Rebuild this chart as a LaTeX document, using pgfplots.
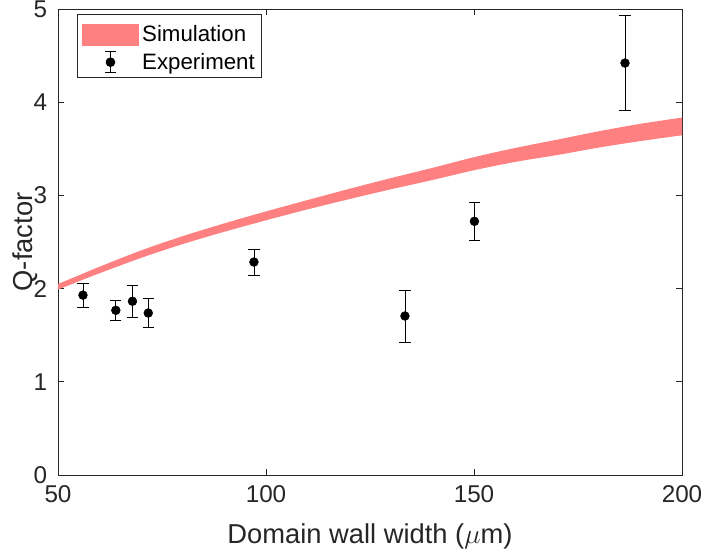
\documentclass[border=0pt]{standalone}
\usepackage{pgfplots}
\pgfplotsset{compat=1.18}
\usepgfplotslibrary{fillbetween}
\usepackage{fontspec}
\setmainfont{Liberation Sans}

\definecolor{simred}{RGB}{255,128,128}
\definecolor{axgray}{RGB}{38,38,38}

% simulated Q-factor band: lower and upper edges
\pgfplotstableread{
x    lo      hi
50   1.990   2.050
55   2.078   2.142
60   2.165   2.235
70   2.330   2.410
80   2.478   2.563
90   2.610   2.700
100  2.733   2.828
110  2.850   2.950
120  2.960   3.070
130  3.065   3.185
140  3.165   3.295
150  3.270   3.410
160  3.360   3.510
170  3.433   3.598
180  3.513   3.688
190  3.583   3.768
200  3.645   3.835
}\simband

% measured Q-factor with error
\pgfplotstableread{
x     y      e
56.0  1.93   0.13
63.9  1.767  0.11
67.9  1.864  0.17
71.7  1.738  0.155
97.1  2.285  0.14
133.4 1.706  0.28
150.1 2.722  0.20
186.3 4.42   0.51
}\expdata

\begin{document}
\begin{tikzpicture}
\begin{axis}[
  scale only axis,
  width=468pt, height=349.5pt,
  xmin=50, xmax=200, ymin=0, ymax=5,
  xtick={50,100,150,200}, ytick={0,1,2,3,4,5},
  tick align=inside,
  major tick length=4.5pt,
  axis line style={axgray, line width=0.6pt},
  tick style={axgray, line width=0.6pt},
  ticklabel style={font=\fontsize{18.2}{22}\selectfont, text=axgray},
  /pgf/number format/assume math mode=true,
  xticklabel style={anchor=north, inner sep=0pt, yshift=-8pt},
  yticklabel style={anchor=east, inner sep=0pt, xshift=-8pt},
  xlabel={Domain wall width ($\mu$m)},
  ylabel={Q-factor},
  label style={font=\fontsize{20.5}{24}\selectfont, text=axgray},
  xlabel style={at={(axis description cs:0.5,0)}, anchor=center, yshift=-45.75pt},
  ylabel style={at={(axis description cs:0,0.5)}, anchor=center, rotate=0, yshift=24.75pt},
  legend style={at={(axis description cs:0,1)}, anchor=north west,
    xshift=14.25pt, yshift=-3.75pt, draw=axgray, line width=0.6pt,
    font=\fontsize{16.7}{20}\selectfont, inner xsep=3pt, inner ysep=2.5pt,
    row sep=3pt},
  legend cell align=left,
]
\addplot[name path=lo, draw=none, smooth, forget plot] table[x=x, y=lo] {\simband};
\addplot[name path=hi, draw=none, smooth, forget plot] table[x=x, y=hi] {\simband};
\addplot[fill=simred, draw=none, area legend,
  legend image code/.code={
    \fill[simred] (0pt,-8.25pt) rectangle (43pt,8.25pt);
    \path (0pt,12.75pt);}]
  fill between[of=lo and hi];
\addlegendentry{Simulation}

\addplot[only marks, mark=*, mark size=3.3pt, black,
  error bars/.cd, y dir=both, y explicit,
  error bar style={black, line width=0.6pt},
  error mark options={rotate=90, mark size=4.2pt, line width=0.6pt},
  /pgfplots/legend image code/.code={
    \draw[black, line width=0.6pt] (21.5pt,-8pt) -- (21.5pt,8pt);
    \draw[black, line width=0.6pt] (17.3pt,-8pt) -- (25.7pt,-8pt);
    \draw[black, line width=0.6pt] (17.3pt,8pt) -- (25.7pt,8pt);
    \fill[black] (21.5pt,0pt) circle (3.3pt);
    \path (0pt,0pt) (43pt,0pt);}]
  table[x=x, y=y, y error=e] {\expdata};
\addlegendentry{Experiment}
\end{axis}
\pgfresetboundingbox
\path (-43.5pt,-63pt) rectangle (486pt,356.25pt);
\end{tikzpicture}
\end{document}
